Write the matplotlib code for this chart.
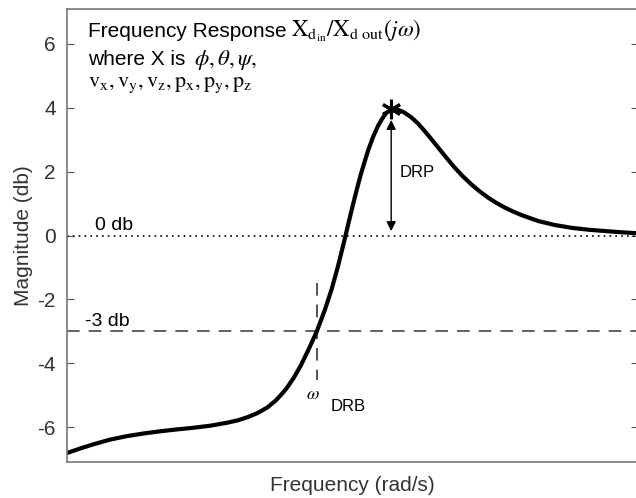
import numpy as np
import matplotlib
matplotlib.use("Agg")
import matplotlib.pyplot as plt

plt.rcParams['font.family'] = ['Liberation Sans', 'DejaVu Sans']
plt.rcParams['mathtext.fontset'] = 'stix'

# magnitude response (frequency in arbitrary units)
freq = [0.000, 0.228, 0.457, 0.756, 1.054, 1.336, 1.634, 1.933, 2.214, 2.513,
        2.812, 2.988, 3.163, 3.339, 3.515, 3.656, 3.796, 3.866, 3.972, 4.095,
        4.236, 4.376, 4.517, 4.640, 4.745, 4.851, 4.974, 5.062, 5.149, 5.272,
        5.360, 5.448, 5.518, 5.589, 5.677, 5.750, 5.800, 5.905, 6.028, 6.151,
        6.274, 6.380, 6.503, 6.643, 6.784, 6.924, 7.083, 7.223, 7.381, 7.522,
        7.663, 7.803, 7.961, 8.260, 8.541, 8.840, 9.139, 9.420, 9.719, 10.00]
mag = [-6.80, -6.66, -6.53, -6.38, -6.27, -6.19, -6.12, -6.06, -6.01, -5.945,
       -5.85, -5.78, -5.68, -5.55, -5.37, -5.16, -4.89, -4.73, -4.45, -4.07,
       -3.55, -3.00, -2.33, -1.66, -0.98, -0.22, 0.70, 1.33, 1.92, 2.64,
       3.07, 3.42, 3.64, 3.82, 3.93, 3.95, 3.93, 3.85, 3.70, 3.50,
       3.25, 3.02, 2.75, 2.44, 2.14, 1.87, 1.60, 1.39, 1.18, 1.02,
       0.88, 0.76, 0.64, 0.45, 0.33, 0.24, 0.18, 0.14, 0.10, 0.07]

peak_f, peak_db = 5.68, 3.94
w_drb = 4.38
yticks = [-6, -4, -2, 0, 2, 4, 6]

fig = plt.figure(figsize=(6.36, 4.98), dpi=100)
ax = fig.add_axes([0.1053, 0.0723, 0.8975, 0.9096])

ax.axhline(0, color='black', lw=1.2, ls=(0, (1, 2.5)))
ax.axhline(-3, color='#555555', lw=1.3, ls=(0, (7, 5)))
ax.plot([w_drb, w_drb], [-1.48, -4.52], color='#444444', lw=1.3, ls=(0, (7, 5)))

ax.plot(freq, mag, color='black', lw=3, solid_capstyle='round', solid_joinstyle='round')
ax.plot([peak_f], [peak_db], marker=(6, 2, 0), ms=14, mew=2.2, color='black')

ax.annotate('', xy=(peak_f, 0.05), xytext=(peak_f, 3.7),
            arrowprops=dict(arrowstyle='<|-|>', color='black', lw=1, mutation_scale=14))

ax.text(5.82, 1.98, 'DRP', fontsize=12, va='center')
ax.text(0.49, 0.32, '0 db', fontsize=14, va='center')
ax.text(0.32, -2.7, '-3 db', fontsize=14, va='center')
ax.text(4.18, -4.98, r'$\omega$', fontsize=13, va='center')
ax.text(4.62, -5.33, 'DRB', fontsize=12, va='center')

# three-line caption in the upper left
ax.text(0.37, 6.20, 'Frequency Response', fontsize=15, va='baseline')
ax.text(3.92, 6.20, r'$\mathrm{X}_{\mathrm{d}_{\mathrm{in}}}/\mathrm{X}_{\mathrm{d\ out}}(j\omega)$',
        fontsize=16.5, va='baseline')
ax.text(0.37, 5.33, 'where X is', fontsize=15, va='baseline')
ax.text(2.23, 5.33, r'$\phi,\theta,\psi,$', fontsize=16.5, va='baseline')
ax.text(0.37, 4.64, r'$\mathrm{v_x, v_y, v_z, p_x, p_y, p_z}$', fontsize=16, va='baseline')

ax.set_xlim(0, 10)
ax.set_ylim(-7.08, 7.08)
ax.set_yticks(yticks)
ax.set_yticklabels([str(t) for t in yticks])
ax.set_xticks([])
ax.tick_params(axis='y', direction='in', length=5, width=0.8, color='#555555',
               labelsize=15, labelcolor='#333333', right=True, pad=8)
for s in ax.spines.values():
    s.set_color('#777777')
    s.set_linewidth(1.2)

ax.set_xlabel('Frequency (rad/s)', fontsize=15, color='#333333', labelpad=10)
ax.set_ylabel('Magnitude (db)', fontsize=15, color='#333333', labelpad=3)

fig.savefig('out.png', dpi=100)
